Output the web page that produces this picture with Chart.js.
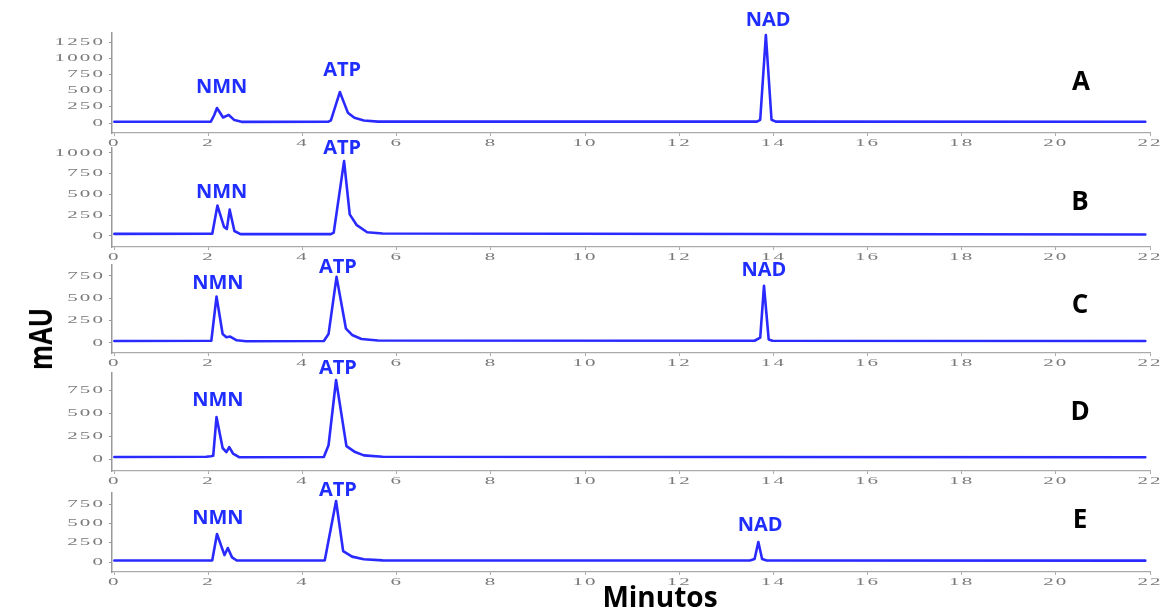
<!DOCTYPE html>
<html>
<head>
<meta charset="utf-8">
<script src="https://cdn.jsdelivr.net/npm/chart.js@4.4.1/dist/chart.umd.min.js"></script>
<style>
  html, body { margin: 0; padding: 0; background: #fff; }
  #wrap { position: relative; width: 1172px; height: 610px; overflow: hidden; }
  #wrap canvas { position: absolute; left: 0; top: 0; }
  .letter { position: absolute; font: bold 26px 'Open Sans', sans-serif; color: #000; transform: translate(-50%, -50%); line-height: 1; }
  #ylab { position: absolute; left: 40px; top: 339px; font: bold 32px 'Open Sans', sans-serif; color: #000;
          transform: translate(-50%, -50%) rotate(-90deg) scaleX(0.8); line-height: 1; }
  #xlab { position: absolute; left: 660px; top: 596px; font: bold 28px 'Open Sans', sans-serif; color: #000;
          transform: translate(-50%, -50%); line-height: 1; }
</style>
</head>
<body>
<div id="wrap">
  <canvas id="cA" width="1172" height="610"></canvas>
  <canvas id="cB" width="1172" height="610"></canvas>
  <canvas id="cC" width="1172" height="610"></canvas>
  <canvas id="cD" width="1172" height="610"></canvas>
  <canvas id="cE" width="1172" height="610"></canvas>
  <div class="letter" style="left:1081px;top:80px">A</div>
  <div class="letter" style="left:1080px;top:200px">B</div>
  <div class="letter" style="left:1080px;top:303px">C</div>
  <div class="letter" style="left:1080px;top:410px">D</div>
  <div class="letter" style="left:1080px;top:518px">E</div>
  <div id="ylab">mAU</div>
  <div id="xlab">Minutos</div>
</div>
<script>
// retention time (min) and absorbance (mAU)
const timeA = [0, 2.05, 2.12, 2.18, 2.31, 2.43, 2.55, 2.7, 4.55, 4.6, 4.79, 4.96, 5.1, 5.3, 5.6, 13.65, 13.72, 13.84, 13.96, 14.05, 21.9];
const mauA  = [20, 22, 120, 231, 85, 125, 45, 18, 20, 40, 478, 160, 80, 40, 22, 22, 50, 1358, 50, 22, 20];

const timeB = [0, 2.08, 2.19, 2.33, 2.39, 2.45, 2.55, 2.68, 4.6, 4.66, 4.88, 5.0, 5.15, 5.37, 5.7, 21.9];
const mauB  = [25, 28, 366, 110, 85, 317, 60, 22, 22, 40, 902, 260, 130, 45, 30, 18];

const timeC = [0, 2.06, 2.17, 2.3, 2.38, 2.46, 2.6, 2.8, 4.45, 4.55, 4.72, 4.92, 5.05, 5.25, 5.6, 13.6, 13.72, 13.8, 13.9, 13.98, 21.9];
const mauC  = [22, 25, 520, 100, 65, 72, 30, 20, 22, 100, 740, 160, 90, 45, 28, 25, 60, 640, 40, 25, 22];

const timeD = [0, 1.95, 2.05, 2.1, 2.17, 2.3, 2.38, 2.44, 2.52, 2.65, 4.45, 4.55, 4.71, 4.93, 5.1, 5.3, 5.7, 21.9];
const mauD  = [22, 25, 30, 35, 457, 120, 76, 130, 60, 20, 22, 150, 859, 140, 80, 40, 25, 20];

const timeE = [0, 2.08, 2.18, 2.34, 2.41, 2.5, 2.6, 4.47, 4.71, 4.86, 5.05, 5.3, 5.7, 13.5, 13.6, 13.68, 13.76, 13.86, 21.9];
const mauE  = [20, 22, 362, 90, 181, 60, 20, 22, 789, 142, 70, 35, 22, 20, 40, 259, 40, 20, 18];

// tick labels
const xTicks  = [0, 2, 4, 6, 8, 10, 12, 14, 16, 18, 20, 22];
const yTicksA = [0, 250, 500, 750, 1000, 1250];
const yTicksB = [0, 250, 500, 750, 1000];
const yTicksC = [0, 250, 500, 750];
const yTicksD = [0, 250, 500, 750];
const yTicksE = [0, 250, 500, 750];

// peak names with the (time, mAU) point each label sits on
const peaksA = [['NMN', 2.28, 556], ['ATP', 4.84, 818], ['NAD', 13.89, 1590]];
const peaksB = [['NMN', 2.28, 530], ['ATP', 4.84, 1060]];
const peaksC = [['NMN', 2.20, 672], ['ATP', 4.75, 851], ['NAD', 13.80, 817]];
const peaksD = [['NMN', 2.20, 641], ['ATP', 4.75, 989]];
const peaksE = [['NMN', 2.20, 569], ['ATP', 4.75, 931], ['NAD', 13.72, 479]];

const LINE_COLOR = '#2a2aff';
const LABEL_COLOR = '#1f2eff';
const TICK_COLOR = '#7a7a7a';
const X_AXIS_H = 14;

// the original tick text is stretched sideways, so draw it by hand
function drawWide(ctx, txt, x, y, align) {
    ctx.save();
    ctx.translate(x, y);
    ctx.scale(2.1, 1);
    ctx.textAlign = align;
    ctx.fillText(txt, 0, 0);
    ctx.restore();
}

function panelPlugin(peaks) {
    return {
        id: 'panelText',
        afterDraw(chart) {
            const ctx = chart.ctx;
            const xs = chart.scales.x;
            const ys = chart.scales.y;
            ctx.save();
            ctx.fillStyle = TICK_COLOR;
            ctx.font = '10px "Liberation Serif", serif';
            ctx.letterSpacing = '1px';
            ctx.textBaseline = 'middle';
            ys.ticks.forEach(t => {
                drawWide(ctx, String(t.value), ys.right - 7, ys.getPixelForValue(t.value), 'right');
            });
            xs.ticks.forEach(t => {
                drawWide(ctx, String(t.value), xs.getPixelForValue(t.value), xs.top + 10, 'center');
            });
            ctx.letterSpacing = '0px';
            ctx.fillStyle = LABEL_COLOR;
            ctx.font = 'bold 20px "Open Sans", sans-serif';
            ctx.textAlign = 'center';
            peaks.forEach(p => {
                ctx.fillText(p[0], xs.getPixelForValue(p[1]), ys.getPixelForValue(p[2]));
            });
            ctx.restore();
        }
    };
}

function makePanel(id, times, values, yTicks, yMin, yMax, top, bottom, peaks) {
    const pts = times.map((t, i) => ({ x: t, y: values[i] }));
    new Chart(document.getElementById(id), {
        type: 'line',
        data: {
            datasets: [{
                data: pts,
                borderColor: LINE_COLOR,
                borderWidth: 2.6,
                borderJoinStyle: 'round',
                borderCapStyle: 'round',
                pointRadius: 0,
                tension: 0,
                fill: false
            }]
        },
        options: {
            responsive: false,
            animation: false,
            devicePixelRatio: 1,
            layout: { padding: { left: 0, right: 22, top: top, bottom: 610 - bottom - X_AXIS_H } },
            plugins: { legend: { display: false }, tooltip: { enabled: false } },
            scales: {
                x: {
                    type: 'linear',
                    min: -0.05,
                    max: 22,
                    afterBuildTicks: s => { s.ticks = xTicks.map(v => ({ value: v })); },
                    afterFit: s => { s.height = X_AXIS_H; },
                    ticks: { display: false },
                    grid: { drawOnChartArea: false, tickLength: 3, color: '#aaaaaa' },
                    border: { display: true, color: '#aaaaaa', width: 1.2, dash: [2, 3] }
                },
                y: {
                    min: yMin,
                    max: yMax,
                    afterBuildTicks: s => { s.ticks = yTicks.map(v => ({ value: v })); },
                    afterFit: s => { s.width = 112; },
                    ticks: { display: false },
                    grid: { drawOnChartArea: false, tickLength: 3, color: '#999999' },
                    border: { display: true, color: '#999999', width: 1.5 }
                }
            }
        },
        plugins: [panelPlugin(peaks)]
    });
}

makePanel('cA', timeA, mauA, yTicksA, -154, 1389, 33, 133, peaksA);
makePanel('cB', timeB, mauB, yTicksB, -133, 1060, 148, 247, peaksB);
makePanel('cC', timeC, mauC, yTicksC, -112, 873, 265, 353, peaksC);
makePanel('cD', timeD, mauD, yTicksD, -130, 935, 373, 471, peaksD);
makePanel('cE', timeE, mauE, yTicksE, -129, 893, 493, 572, peaksE);
</script>
</body>
</html>
